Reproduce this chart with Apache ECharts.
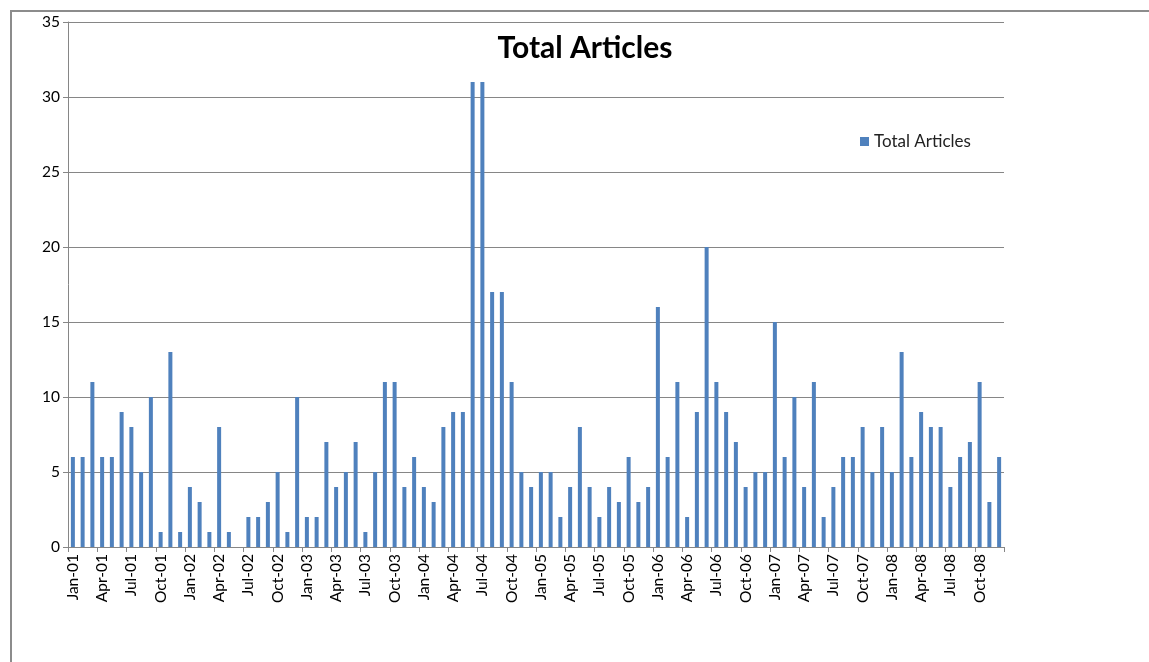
<!DOCTYPE html>
<html>
<head>
<meta charset="utf-8">
<script src="https://cdn.jsdelivr.net/npm/echarts@6/dist/echarts.min.js"></script>
<style>
  html, body { margin: 0; padding: 0; background: #fff; }
  #chart { width: 1149px; height: 662px; }
  /* 外框：只有上边和左边 */
  .frame {
    position: absolute; left: 10px; top: 10px; width: 1139px; height: 652px;
    border-top: 2px solid #8c8c8c; border-left: 2px solid #8c8c8c;
    box-sizing: border-box; pointer-events: none;
  }
</style>
</head>
<body>
<div id="chart"></div>
<div class="frame"></div>
<script>
const years = ['01', '02', '03', '04', '05', '06', '07', '08']
const monthNames = ['Jan', 'Feb', 'Mar', 'Apr', 'May', 'Jun', 'Jul', 'Aug', 'Sep', 'Oct', 'Nov', 'Dec']
const categories = []
years.forEach((y) => monthNames.forEach((m) => categories.push(m + '-' + y)))

// 每月文章数
const articles2001 = [6, 6, 11, 6, 6, 9, 8, 5, 10, 1, 13, 1]
const articles2002 = [4, 3, 1, 8, 1, 0, 2, 2, 3, 5, 1, 10]
const articles2003 = [2, 2, 7, 4, 5, 7, 1, 5, 11, 11, 4, 6]
const articles2004 = [4, 3, 8, 9, 9, 31, 31, 17, 17, 11, 5, 4]
const articles2005 = [5, 5, 2, 4, 8, 4, 2, 4, 3, 6, 3, 4]
const articles2006 = [16, 6, 11, 2, 9, 20, 11, 9, 7, 4, 5, 5]
const articles2007 = [15, 6, 10, 4, 11, 2, 4, 6, 6, 8, 5, 8]
const articles2008 = [5, 13, 6, 9, 8, 8, 4, 6, 7, 11, 3, 6]
const totalArticles = [].concat(articles2001, articles2002, articles2003, articles2004,
  articles2005, articles2006, articles2007, articles2008)

const yTicks = { min: 0, max: 35, interval: 5 }

const chart = echarts.init(document.getElementById('chart'))
const axisColor = '#868686'
const font = 'Lato, "Open Sans", "Liberation Sans", sans-serif'

const options = {
  animation: false,
  title: {
    text: 'Total Articles',
    left: 580,
    textAlign: 'center',
    top: 28,
    textStyle: { fontFamily: font, fontSize: 30, fontWeight: 'bold', color: '#000' }
  },
  legend: {
    left: 855,
    top: 128,
    icon: 'rect',
    itemWidth: 9,
    itemHeight: 9,
    itemGap: 4,
    textStyle: { fontFamily: font, fontSize: 17, color: '#222' },
    data: ['Total Articles']
  },
  grid: { left: 68, right: 145, top: 22, bottom: 115 },
  xAxis: {
    type: 'category',
    data: categories,
    boundaryGap: true,
    axisLine: { show: true, lineStyle: { color: axisColor, width: 1 } },
    axisTick: { show: true, interval: 2, length: 5, lineStyle: { color: axisColor } },
    axisLabel: {
      interval: 2,
      rotate: 90,
      margin: 7,
      fontFamily: font,
      fontSize: 15.5,
      color: '#000'
    },
    splitLine: { show: false }
  },
  yAxis: {
    type: 'value',
    min: yTicks.min,
    max: yTicks.max,
    interval: yTicks.interval,
    axisLine: { show: true, lineStyle: { color: axisColor, width: 1 } },
    axisTick: { show: true, length: 5, lineStyle: { color: axisColor } },
    axisLabel: { margin: 8, fontFamily: font, fontSize: 15.5, color: '#000' },
    splitLine: { show: true, lineStyle: { color: axisColor, width: 1 } }
  },
  series: [
    {
      name: 'Total Articles',
      type: 'bar',
      data: totalArticles,
      barWidth: 4,
      itemStyle: { color: '#4F81BD' }
    }
  ]
}
chart.setOption(options)
</script>
</body>
</html>
